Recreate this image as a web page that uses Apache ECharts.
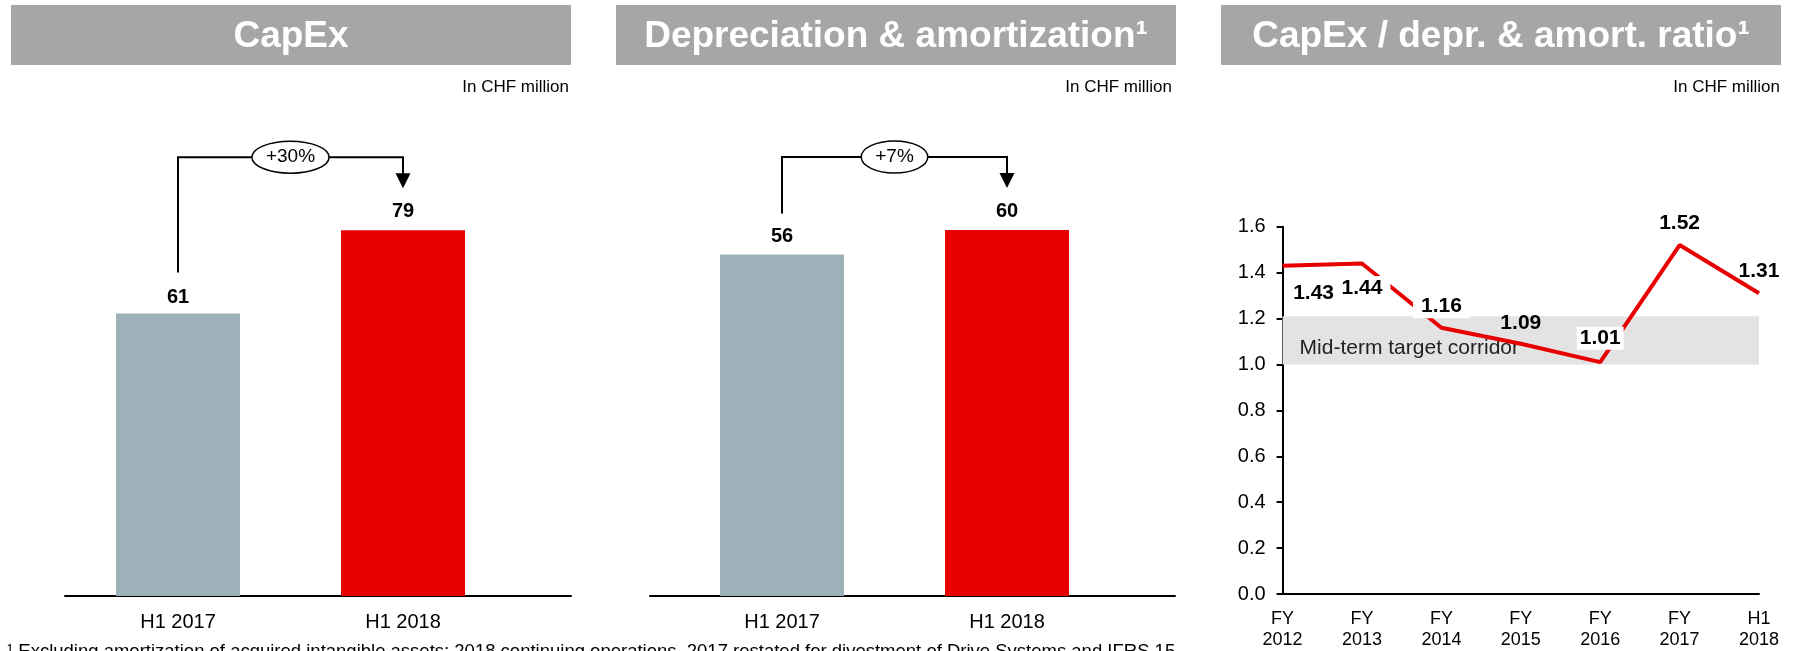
<!DOCTYPE html>
<html><head><meta charset="utf-8">
<script src="https://cdn.jsdelivr.net/npm/echarts@6/dist/echarts.min.js"></script>
<style>html,body{margin:0;padding:0;background:#fff}#c{width:1797px;height:651px}</style>
</head><body><div id="c"></div>
<script>
// ---- data ----
const barCategories = ['H1 2017', 'H1 2018'];
const capexValues = [61, 79];
const deprValues = [56, 60];
const capexGrowth = '+30%';
const deprGrowth = '+7%';
const ratioCategories = ['FY\n2012', 'FY\n2013', 'FY\n2014', 'FY\n2015', 'FY\n2016', 'FY\n2017', 'H1\n2018'];
const ratioValues = [1.43, 1.44, 1.16, 1.09, 1.01, 1.52, 1.31];
const ratioTicks = { min: 0, max: 1.6, step: 0.2 };
const corridorRange = [1.0, 1.21];
const corridorLabel = 'Mid-term target corridor';
const panelTitles = ['CapEx', 'Depreciation & amortization¹', 'CapEx / depr. & amort. ratio¹'];
const unitLabel = 'In CHF million';
const footnote = '¹ Excluding amortization of acquired intangible assets; 2018 continuing operations, 2017 restated for divestment of Drive Systems and IFRS 15';

// ---- styles ----
const FONT = '"Liberation Sans", Arial, Helvetica, sans-serif';
const GRAY = '#9db1b8';
const RED = '#e80000';
const HEAD = '#a6a6a6';
const barColors = [GRAY, RED];
const capexLabelDistance = [6, 9];
const deprLabelDistance = [8, 9];
const ratioLabelPlacement = [
  { position: 'bottom', distance: 16, offset: [31, 0] },
  { position: 'bottom', distance: 12, backgroundColor: '#fff', padding: [2, 8] },
  { position: 'top', distance: 9, backgroundColor: '#fff', padding: [2, 8] },
  { position: 'top', distance: 10 },
  { position: 'top', distance: 12, backgroundColor: '#fff', padding: [1, 3] },
  { position: 'top', distance: 11 },
  { position: 'top', distance: 11 }
];

const chart = echarts.init(document.getElementById('c'), null, { renderer: 'canvas' });

function barSeries(values, xi, dists) {
  return {
    type: 'bar', xAxisIndex: xi, yAxisIndex: xi, barWidth: 124,
    data: values.map((v, i) => ({ value: v, itemStyle: { color: barColors[i] }, label: { distance: dists[i] } })),
    label: { show: true, position: 'top', fontSize: 20, fontWeight: 'bold', color: '#000', fontFamily: FONT },
    silent: true
  };
}
const hiddenCatX = (gi) => ({
  type: 'category', gridIndex: gi, data: barCategories,
  axisLine: { show: false }, axisTick: { show: false },
  axisLabel: { fontSize: 20, color: '#000', margin: 16, fontFamily: FONT }
});
const baseX = (gi) => ({
  type: 'value', gridIndex: gi, min: 0, max: 1,
  axisLine: { show: true, onZero: false, lineStyle: { color: '#000', width: 2 } },
  axisTick: { show: false }, axisLabel: { show: false }, splitLine: { show: false }
});
const hiddenY = (gi, max) => ({ type: 'value', gridIndex: gi, min: 0, max: max, show: false, splitLine: { show: false } });

const headerGraphics = [];
const heads = [[11, 560], [616, 560], [1221, 560]];
const unitRight = [569, 1172, 1780];
heads.forEach((h, i) => {
  headerGraphics.push({ type: 'rect', shape: { x: h[0], y: 5, width: h[1], height: 60 }, style: { fill: HEAD }, silent: true });
  headerGraphics.push({ type: 'text', x: h[0] + h[1] / 2, y: 37, style: { text: panelTitles[i], fill: '#fff', fontSize: 37, fontWeight: 'bold', fontFamily: FONT, align: 'center', verticalAlign: 'middle' }, silent: true });
  headerGraphics.push({ type: 'text', x: unitRight[i], y: 87, style: { text: unitLabel, fill: '#000', fontSize: 17, fontFamily: FONT, align: 'right', verticalAlign: 'middle' }, silent: true });
});
headerGraphics.push({ type: 'text', x: 7, y: 642, style: { text: footnote, fill: '#000', fontSize: 18.5, fontFamily: FONT, align: 'left', verticalAlign: 'top' }, silent: true });

chart.setOption({
  animation: false,
  backgroundColor: '#fff',
  textStyle: { fontFamily: FONT },
  grid: [
    { left: 65.5, top: 133, width: 450, height: 463 },
    { left: 65, top: 133, width: 506, height: 463 },
    { left: 669.5, top: 108, width: 450, height: 488 },
    { left: 650, top: 108, width: 525, height: 488 },
    { left: 1282.6, top: 226.7, right: 38, bottom: 57 }
  ],
  xAxis: [
    hiddenCatX(0), baseX(1), hiddenCatX(2), baseX(3),
    {
      type: 'category', gridIndex: 4, data: ratioCategories, boundaryGap: false,
      axisLine: { show: true, lineStyle: { color: '#000', width: 2 } },
      axisTick: { show: false },
      axisLabel: { fontSize: 18, lineHeight: 21, color: '#000', margin: 15, fontFamily: FONT, interval: 0 }
    }
  ],
  yAxis: [
    hiddenY(0, 100), hiddenY(1, 1), hiddenY(2, 80), hiddenY(3, 1),
    {
      type: 'value', gridIndex: 4, min: ratioTicks.min, max: ratioTicks.max, interval: ratioTicks.step,
      axisLine: { show: true, lineStyle: { color: '#000', width: 2 } },
      axisTick: { show: true, length: 6, lineStyle: { color: '#000', width: 2 } },
      axisLabel: { fontSize: 20, color: '#000', margin: 17, fontFamily: FONT, formatter: v => v.toFixed(1) },
      splitLine: { show: false }
    }
  ],
  series: [
    barSeries(capexValues, 0, capexLabelDistance),
    barSeries(deprValues, 2, deprLabelDistance),
    {
      type: 'line', xAxisIndex: 4, yAxisIndex: 4,
      symbol: 'circle', symbolSize: 1,
      itemStyle: { color: 'rgba(0,0,0,0)', borderWidth: 0 },
      lineStyle: { color: RED, width: 4 },
      data: ratioValues.map((v, i) => ({ value: v, label: ratioLabelPlacement[i] })),
      label: { show: true, fontSize: 21, fontWeight: 'bold', color: '#000', fontFamily: FONT, formatter: p => p.value.toFixed(2) },
      markArea: {
        silent: true,
        itemStyle: { color: '#e3e3e3' },
        label: { show: true, position: 'insideLeft', distance: 17, offset: [0, 8], fontSize: 21, color: '#222', fontFamily: FONT },
        data: [[{ yAxis: corridorRange[0], name: corridorLabel }, { yAxis: corridorRange[1] }]]
      },
      silent: true
    }
  ],
  graphic: headerGraphics
});

// growth brackets derived from the bar positions
const mctx = document.createElement('canvas').getContext('2d');
function bracket(seriesIndex, values, text) {
  const p0 = chart.convertToPixel({ seriesIndex }, [0, values[0]]);
  const p1 = chart.convertToPixel({ seriesIndex }, [1, values[1]]);
  const top = Math.min(p0[1], p1[1]);
  const lineY = top - 73;
  const leftBottom = p0[1] - 41;
  const tip = p1[1] - 42;
  mctx.font = '19px ' + FONT;
  const tw = mctx.measureText(text).width;
  const rx = (tw + 28) / 2;
  const cx = (p0[0] + p1[0]) / 2;
  return [
    { type: 'polyline', shape: { points: [[p0[0], leftBottom], [p0[0], lineY], [p1[0], lineY], [p1[0], tip - 14]] }, style: { stroke: '#000', lineWidth: 2, fill: null }, z: 10, silent: true },
    { type: 'polygon', shape: { points: [[p1[0] - 7.5, tip - 15], [p1[0] + 7.5, tip - 15], [p1[0], tip]] }, style: { fill: '#000' }, z: 10, silent: true },
    { type: 'ellipse', shape: { cx: cx, cy: lineY, rx: rx, ry: 16 }, style: { fill: '#fff', stroke: '#000', lineWidth: 1.5 }, z: 11, silent: true },
    { type: 'text', x: cx, y: lineY, style: { text: text, fontSize: 19, fontFamily: FONT, fill: '#000', align: 'center', verticalAlign: 'middle' }, z: 12, silent: true }
  ];
}
chart.setOption({ graphic: headerGraphics.concat(bracket(0, capexValues, capexGrowth), bracket(1, deprValues, deprGrowth)) });
</script>
</body></html>
